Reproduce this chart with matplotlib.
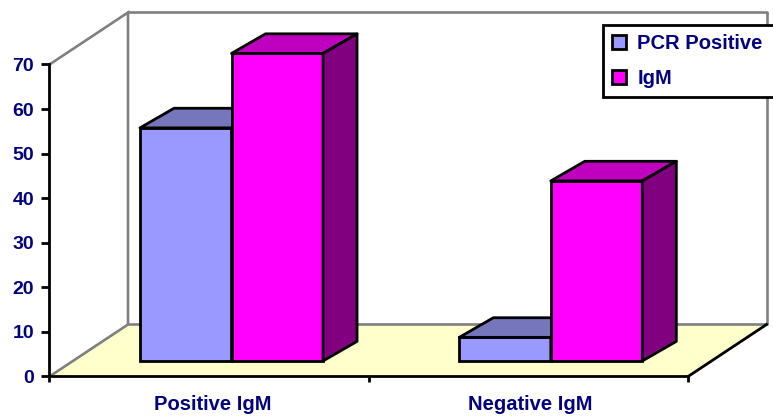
import matplotlib
matplotlib.use("Agg")
import matplotlib.pyplot as plt
from matplotlib.patches import Polygon

categories = ["Positive IgM", "Negative IgM"]
pcr_positive = [52.3, 5.3]
igm = [69, 40.4]
y_ticks = [0, 10, 20, 30, 40, 50, 60, 70]
NAVY = "#000080"
plt.rcParams['font.family'] = ['Liberation Sans', 'DejaVu Sans']

# depth of the fake 3d box and of the bars, in data units
wall_dx, wall_dy = 0.2459, 11.67
bar_dx, bar_dy = 0.1065, 4.4
off_dx, off_dy = 0.2835, 3.48
bar_w = 0.2866
LW = 2


def bar_3d(ax, x, val, front, top, side, label=None):
    x0 = x + off_dx
    y0 = off_dy
    b = ax.bar(x0, val, bar_w, bottom=y0, align='edge', color=front, edgecolor='k',
               linewidth=LW, zorder=4, label=label)
    yt = y0 + val
    ax.add_patch(Polygon([(x0, yt), (x0 + bar_dx, yt + bar_dy), (x0 + bar_w + bar_dx, yt + bar_dy), (x0 + bar_w, yt)],
                         fc=top, ec='k', lw=LW, zorder=4, joinstyle='round'))
    ax.add_patch(Polygon([(x0 + bar_w, y0), (x0 + bar_w + bar_dx, y0 + bar_dy), (x0 + bar_w + bar_dx, yt + bar_dy), (x0 + bar_w, yt)],
                         fc=side, ec='k', lw=LW, zorder=4, joinstyle='round'))
    return b


fig = plt.figure(figsize=(7.73, 4.17), dpi=100)
ax = fig.add_axes([0, 0, 1, 1])
ax.set_xlim(-0.155, 2.266)
ax.set_ylim(-9.09, 84.47)
ax.patch.set_visible(False)

# floor and walls
ax.add_patch(Polygon([(0, 0), (wall_dx, wall_dy), (2 + wall_dx, wall_dy), (2, 0)], fc='#FFFFCC', ec='none', zorder=1))
ax.plot([0, wall_dx, wall_dx, 0], [0, wall_dy, wall_dy + 70, 70], color='#808080', lw=1.9, zorder=2, solid_joinstyle='miter')
ax.plot([wall_dx, 2 + wall_dx, 2 + wall_dx, wall_dx], [wall_dy + 70, wall_dy + 70, wall_dy, wall_dy], color='#808080', lw=1.9, zorder=2)
ax.plot([2, 2 + wall_dx], [0, wall_dy], color='k', lw=LW, zorder=3)

for i in range(len(categories)):
    bar_3d(ax, i, pcr_positive[i], '#9999FF', '#7676BD', '#4C4C80', label='PCR Positive' if i == 0 else None)
    bar_3d(ax, i + bar_w, igm[i], '#FF00FF', '#BF00BF', '#800080', label='IgM' if i == 0 else None)

# axes lines sit on the data origin
for s in ['top', 'right']:
    ax.spines[s].set_visible(False)
ax.spines['left'].set_position(('data', 0))
ax.spines['bottom'].set_position(('data', 0))
ax.spines['left'].set_bounds(0, 70)
ax.spines['bottom'].set_bounds(0, 2)
ax.spines['left'].set_linewidth(LW)
ax.spines['bottom'].set_linewidth(LW)
ax.spines['left'].set_zorder(5)
ax.spines['bottom'].set_zorder(5)

ax.set_yticks(y_ticks)
ax.set_xticks([0, 1, 2])
ax.set_xticklabels([])
ax.set_xticks([0.51, 1.505], categories, minor=True)
ax.tick_params(axis='y', length=6, width=LW, pad=5, labelsize=14, labelcolor=NAVY)
ax.tick_params(axis='x', which='major', length=4.5, width=LW)
ax.tick_params(axis='x', which='minor', length=0, pad=13, labelsize=14.5, labelcolor=NAVY)
for t in ax.get_yticklabels() + ax.get_xticklabels(minor=True):
    t.set_fontweight('bold')

# box runs off the right edge of the picture
leg = ax.legend(loc='upper left', bbox_to_anchor=(603 / 773, 1 - 25 / 417, 190 / 773, 0), bbox_transform=fig.transFigure,
                mode='expand', frameon=True, fancybox=False, framealpha=1, edgecolor='k', borderaxespad=0,
                handlelength=0.7, handleheight=0.7, handletextpad=0.55, labelspacing=0.8, borderpad=0.45,
                prop={'weight': 'bold', 'size': 14.5})
leg.get_frame().set_linewidth(LW)
leg.set_zorder(6)
for t in leg.get_texts():
    t.set_color(NAVY)

fig.savefig("out.png", dpi=100)
